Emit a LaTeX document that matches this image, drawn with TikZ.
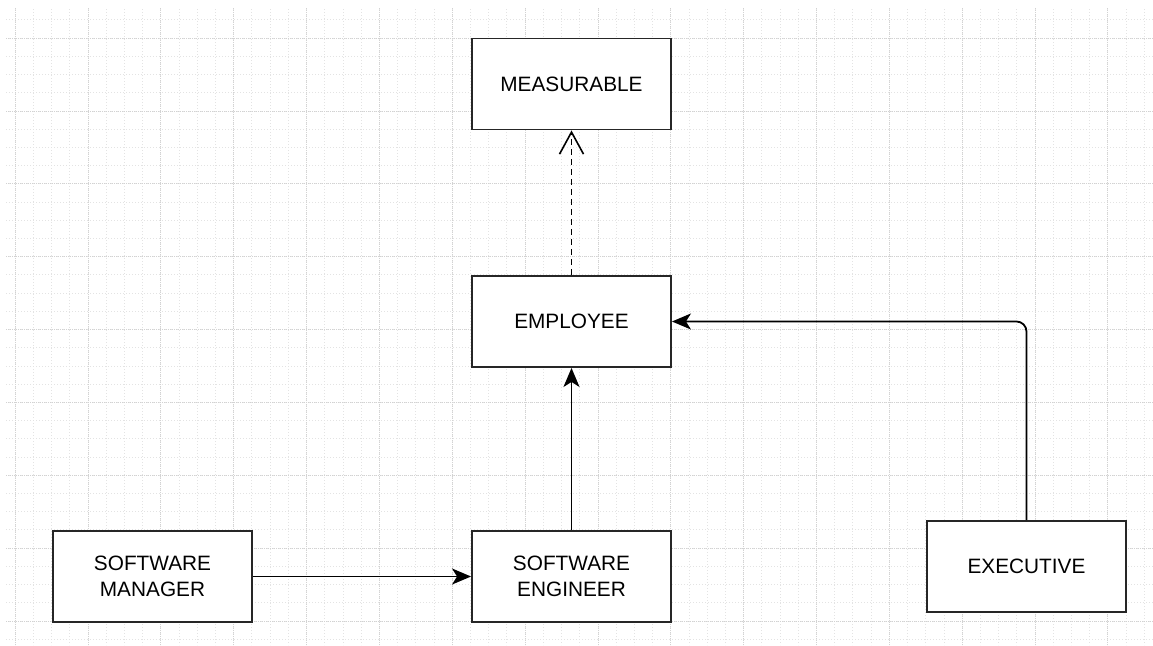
\documentclass[tikz,border=0pt]{standalone}
\usepackage{fontspec}
\setmainfont{Liberation Sans}
\usetikzlibrary{arrows.meta,positioning}

\begin{document}
\begin{tikzpicture}[x=1pt,y=-1pt,
	classbox/.style={draw=black!85,line width=1.9pt,fill=white,minimum width=199pt,minimum height=91pt,align=center,font=\fontsize{20.8}{26.5}\selectfont},
	link/.style={line width=1.8pt,-{Stealth[length=19pt,width=16pt,inset=5pt]}},
	realize/.style={line width=1.8pt,dash pattern=on 6pt off 4pt,-{Straight Barb[length=22pt,width=24pt,line width=1.6pt]}},
	minorgrid/.style={gray!22,line width=0.6pt,dash pattern=on 1pt off 2pt},
	majorgrid/.style={gray!35,line width=0.6pt,dash pattern=on 1pt off 1pt}]
	\useasboundingbox (0,0) rectangle (1153,645);
		% grid
		\begin{scope}
		\clip (6,8) rectangle (1153,645);
		\foreach \k in {0,...,62}
			{
			\draw[minorgrid] (15+18.2125*\k,0)--++(0,645);
			}
		\foreach \k in {-1,...,33}
			{
			\draw[minorgrid] (0,38+18.2125*\k)--++(1153,0);
			}
		\foreach \k in {0,...,15}
			{
			\draw[majorgrid] (15+72.85*\k,0)--++(0,645);
			}
		\foreach \k in {0,...,8}
			{
			\draw[majorgrid] (0,38+72.85*\k)--++(1153,0);
			}
		\end{scope}

		% classes
		\node[classbox] (measurable) at (571.5,84) {MEASURABLE};
		\node[classbox] (employee) at (571.5,321.5) {EMPLOYEE};
		\node[classbox] (engineer) at (571.5,576.5) {SOFTWARE\\ENGINEER};
		\node[classbox] (manager) at (152.5,576.5) {SOFTWARE\\MANAGER};
		\node[classbox] (executive) at (1026.5,566.5) {EXECUTIVE};

		% relations
		\draw[realize] (employee)--(measurable);
		\draw[link] (engineer)--(employee);
		\draw[link] (manager)--(engineer);
		\draw[link,rounded corners=10pt] (executive.north)|-(employee.east);

	\end{tikzpicture}
\end{document}
